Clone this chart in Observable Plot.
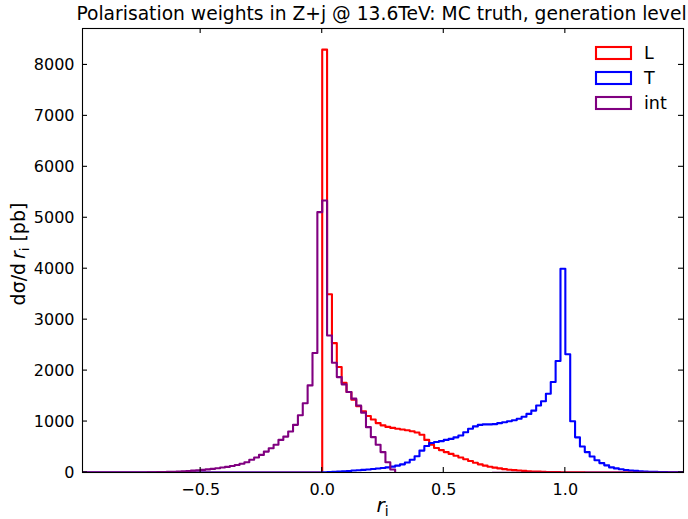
<!DOCTYPE html>
<html><head><meta charset="utf-8">
<script src="https://cdn.jsdelivr.net/npm/d3@7"></script>
<script src="https://cdn.jsdelivr.net/npm/@observablehq/plot@0.6"></script>
<style>
html,body{margin:0;padding:0;background:#fff}
#chart svg{display:block}
</style>
</head><body><div id="chart"></div>
<script>
// ---- data ----
const binStart = -1.0;      // left edge of the first bin
const binWidth = 0.02;      // bin width in r_i
const seriesNames = ["L", "T", "int"];
const seriesColors = ["#ff0000", "#0000ff", "#800080"];
const titleText = "Polarisation weights in Z+j @ 13.6TeV: MC truth, generation level";
const xTicks = [-0.5, 0.0, 0.5, 1.0];
const yTicks = [0, 1000, 2000, 3000, 4000, 5000, 6000, 7000, 8000];
const xDomain = [-0.986, 1.486];
const yDomain = [0, 8715];

// bin contents, bins start at -1.00, -0.98, ..., 1.48 (125 bins)
const valuesL = [
  0,0,0,0,0,0,0,0,0,0, 0,0,0,0,0,0,0,0,0,0, 0,0,0,0,0,0,0,0,0,0,
  0,0,0,0,0,0,0,0,0,0, 0,0,0,0,0,0,0,0,0,0,
  8300,3500,2540,2070,1760,1580,1430,1300,1200,1110,
  1040,970,925,895,875,860,845,830,810,785,
  740,640,545,480,440,400,365,330,295,260,
  225,190,160,135,112,95,80,66,55,46,
  38,32,26,21,17,14,11,9,7,5,
  4,3,2,2,1,1,1,1,0,0,
  0,0,0,0,0,0,0,0,0,0,
  0,0,0,0,0
];
const valuesT = [
  0,0,0,0,0,0,0,0,0,0, 0,0,0,0,0,0,0,0,0,0, 0,0,0,0,0,0,0,0,0,0,
  0,0,0,0,0,0,0,0,0,0, 0,0,0,0,0,0,0,0,0,0,
  5,10,15,20,25,30,38,45,52,60,
  68,78,88,100,115,135,160,195,250,320,
  430,520,580,600,615,640,660,690,725,790,
  860,905,935,945,945,950,970,985,1005,1025,
  1055,1095,1150,1215,1315,1400,1545,1775,2190,4000,
  2320,1005,690,510,400,315,240,185,140,100,
  80,65,50,40,32,25,20,15,12,9,
  7,5,4,3,2
];
const valuesInt = [
  0,0,0,0,0,0,0,0,0,0, 0,0,0,0,
  3,5,7,10,13,16,20,25,30,37,
  44,52,62,72,84,97,110,128,148,172,
  200,250,295,345,410,475,545,640,705,805,
  935,1125,1360,1710,2345,5110,
  5340,2690,2155,1873,1730,1580,1450,1315,1175,890,
  695,545,400,200,60,
  -15,-20,-22,-22,-20,-18,-16,-15,-14,-13,
  -12,-12,-11,-11,-10,-10,-10,-9,-9,-9,
  -8,-8,-8,-8,-7,-7,-7,-6,-6,-6,
  -6,-5,-5,-5,-5,-4,-4,-4,-4,-3,
  -3,-3,-3,-3,-2,-2,-2,-2,-2,-2,
  -1,-1,-1,-1,-1,-1,-1,-1,-1,-1
];

// ---- build step outlines (like matplotlib histtype="step") ----
const nBins = valuesL.length;
const edges = d3.range(nBins + 1).map(i => +(binStart + i * binWidth).toFixed(2));
function stepPoints(values, name) {
  const pts = [{x: edges[0], y: 0, s: name}];
  values.forEach((v, i) => pts.push({x: edges[i], y: v, s: name}));
  pts.push({x: edges[values.length], y: 0, s: name});
  return pts;
}
const allValues = [valuesL, valuesT, valuesInt];
const lineMarks = allValues.map((vals, k) =>
  Plot.line(stepPoints(vals, seriesNames[k]), {
    x: "x", y: "y", curve: "step-after",
    stroke: seriesColors[k], strokeWidth: 2.1, clip: true
  })
);

const W = 688, H = 519;
const mL = 82, mR = 5, mT = 28, mB = 47;
const font = "DejaVu Sans, sans-serif";

const plot = Plot.plot({
  width: W, height: H,
  marginLeft: mL, marginRight: mR, marginTop: mT, marginBottom: mB,
  x: {domain: xDomain},
  y: {domain: yDomain},
  style: {fontFamily: font, fontSize: "16px", color: "#000", background: "#fff", overflow: "visible"},
  marks: [
    ...lineMarks,
    Plot.frame({stroke: "#000", strokeWidth: 1.1}),
    Plot.axisX(xTicks, {tickSize: 0, tickPadding: 11, fontSize: 16, tickFormat: d3.format(".1f"), label: null}),
    Plot.axisY(yTicks, {tickSize: 0, tickPadding: 8, fontSize: 16, tickFormat: d => String(d), label: null})
  ]
});

const svg = d3.select(plot);
const sx = plot.scale("x"), sy = plot.scale("y");
const x0 = mL, x1 = W - mR, y0 = mT, y1 = H - mB;
const tickLen = 5;
const tg = svg.append("g").attr("stroke", "#000").attr("stroke-width", 1.1);
xTicks.forEach(t => {
  const px = sx.apply(t);
  tg.append("line").attr("x1", px).attr("x2", px).attr("y1", y1).attr("y2", y1 - tickLen);
  tg.append("line").attr("x1", px).attr("x2", px).attr("y1", y0).attr("y2", y0 + tickLen);
});
yTicks.forEach(t => {
  const py = sy.apply(t);
  tg.append("line").attr("y1", py).attr("y2", py).attr("x1", x0).attr("x2", x0 + tickLen);
  tg.append("line").attr("y1", py).attr("y2", py).attr("x1", x1).attr("x2", x1 - tickLen);
});

// title
svg.append("text")
  .attr("x", (x0 + x1) / 2 - 1).attr("y", 20)
  .attr("text-anchor", "middle")
  .attr("font-family", font).attr("font-size", 18.7).attr("fill", "#000")
  .text(titleText);

// x label: r_i
const xl = svg.append("text")
  .attr("x", (x0 + x1) / 2).attr("y", 512)
  .attr("text-anchor", "middle")
  .attr("font-family", font).attr("font-size", 20).attr("fill", "#000");
xl.append("tspan").attr("font-style", "italic").text("r");
xl.append("tspan").attr("font-size", 14).attr("dy", 4).text("i");

// y label: dσ/d r_i [pb]
const yl = svg.append("text")
  .attr("transform", `translate(25,${(y0 + y1) / 2 + 4}) rotate(-90)`)
  .attr("text-anchor", "middle")
  .attr("font-family", font).attr("font-size", 19).attr("fill", "#000");
yl.append("tspan").text("dσ/d\u2009");
yl.append("tspan").attr("font-style", "italic").text("r");
yl.append("tspan").attr("font-size", 13).attr("dy", 4).text("i");
yl.append("tspan").attr("dy", -4).text(" [pb]");

// legend
const lg = svg.append("g");
seriesNames.forEach((name, k) => {
  const cy = 53 + k * 25;
  lg.append("rect").attr("x", 596).attr("y", cy - 6).attr("width", 35).attr("height", 12)
    .attr("fill", "none").attr("stroke", seriesColors[k]).attr("stroke-width", 2.1);
  lg.append("text").attr("x", 644).attr("y", cy + 6)
    .attr("text-anchor", "start")
    .attr("font-family", font).attr("font-size", 17.5).attr("fill", "#000").text(name);
});

document.getElementById("chart").appendChild(plot);
</script>
</body></html>
